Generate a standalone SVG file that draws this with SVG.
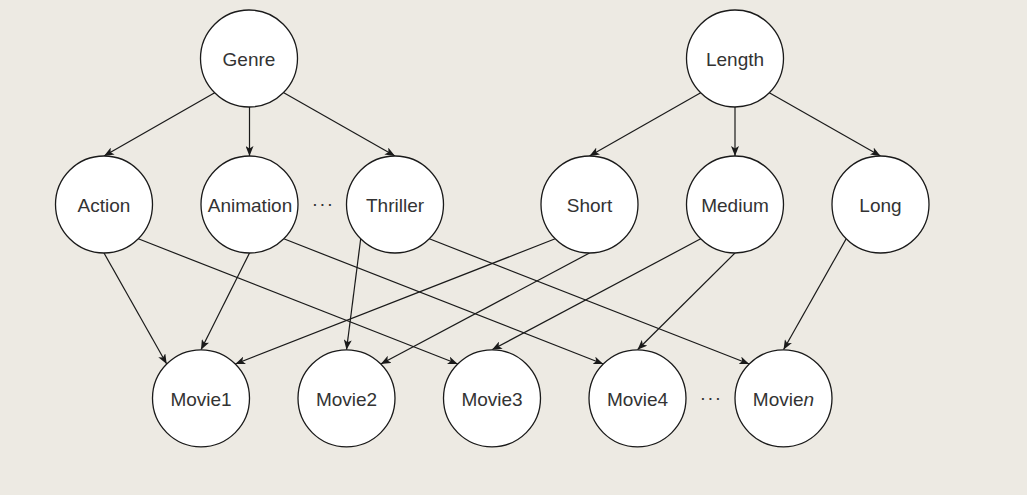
<svg xmlns="http://www.w3.org/2000/svg" width="1027" height="495" viewBox="0 0 1027 495">
<style>
.node circle{fill:#ffffff;stroke:#1a1a1a;stroke-width:1.3}
.node text,.dots{font-family:"Liberation Sans",Arial,Helvetica,sans-serif;font-size:19px;fill:#333333;text-anchor:middle}
.edges line{stroke:#1a1a1a;stroke-width:1.2;marker-end:url(#arrow)}
</style>
<defs>
<marker id="arrow" viewBox="0 0 10 8" refX="10" refY="4" markerWidth="10" markerHeight="8" markerUnits="userSpaceOnUse" orient="auto">
<path d="M0,0 L10,4 L0,8 L2.5,4 Z" fill="#1a1a1a"/>
</marker>
</defs>
<rect x="0" y="0" width="1027" height="495" fill="#edeae3"/>
<g id="connectors" class="edges">
<line x1="214.7" y1="92.8" x2="104" y2="156"/>
<line x1="249.5" y1="107" x2="249.5" y2="156"/>
<line x1="283.8" y1="92.8" x2="395" y2="156"/>
<line x1="700.7" y1="92.8" x2="589.5" y2="156"/>
<line x1="735" y1="107" x2="735" y2="156"/>
<line x1="769.3" y1="92.8" x2="880.5" y2="156"/>
<line x1="104" y1="253" x2="166.7" y2="364"/>
<line x1="138.3" y1="238.8" x2="457.7" y2="364"/>
<line x1="249.5" y1="253" x2="201" y2="349.8"/>
<line x1="283.8" y1="238.8" x2="603.2" y2="364"/>
<line x1="360.7" y1="238.8" x2="346.5" y2="349.8"/>
<line x1="429.3" y1="238.8" x2="749.2" y2="364"/>
<line x1="555.2" y1="238.8" x2="235.3" y2="364"/>
<line x1="589.5" y1="253" x2="380.8" y2="364"/>
<line x1="700.7" y1="238.8" x2="492" y2="349.8"/>
<line x1="735" y1="253" x2="637.5" y2="349.8"/>
<line x1="846.2" y1="238.8" x2="783.5" y2="349.8"/>
</g>
<g id="genre" class="node"><circle cx="249" cy="58.5" r="48.5"/><text x="249" y="66">Genre</text></g>
<g id="length" class="node"><circle cx="735" cy="58.5" r="48.5"/><text x="735" y="66">Length</text></g>
<g id="action" class="node"><circle cx="104" cy="204.5" r="48.5"/><text x="104" y="212">Action</text></g>
<g id="animation" class="node"><circle cx="249.5" cy="204.5" r="48.5"/><text x="250" y="212">Animation</text></g>
<g id="thriller" class="node"><circle cx="395" cy="204.5" r="48.5"/><text x="395" y="212">Thriller</text></g>
<g id="short" class="node"><circle cx="589.5" cy="204.5" r="48.5"/><text x="589.5" y="212">Short</text></g>
<g id="medium" class="node"><circle cx="735" cy="204.5" r="48.5"/><text x="735" y="212">Medium</text></g>
<g id="long" class="node"><circle cx="880.5" cy="204.5" r="48.5"/><text x="880.5" y="212">Long</text></g>
<g id="movie1" class="node"><circle cx="201" cy="398.3" r="48.5"/><text x="201" y="405.5">Movie1</text></g>
<g id="movie2" class="node"><circle cx="346.5" cy="398.3" r="48.5"/><text x="346.5" y="405.5">Movie2</text></g>
<g id="movie3" class="node"><circle cx="492" cy="398.3" r="48.5"/><text x="492" y="405.5">Movie3</text></g>
<g id="movie4" class="node"><circle cx="637.5" cy="398.3" r="48.5"/><text x="637.5" y="405.5">Movie4</text></g>
<g id="movien" class="node"><circle cx="783.5" cy="398.3" r="48.5"/><text x="783.5" y="405.5">Movie<tspan font-style="italic">n</tspan></text></g>
<text class="dots" x="323" y="210" letter-spacing="1.2">···</text>
<text class="dots" x="711" y="404" letter-spacing="1.2">···</text>
</svg>
